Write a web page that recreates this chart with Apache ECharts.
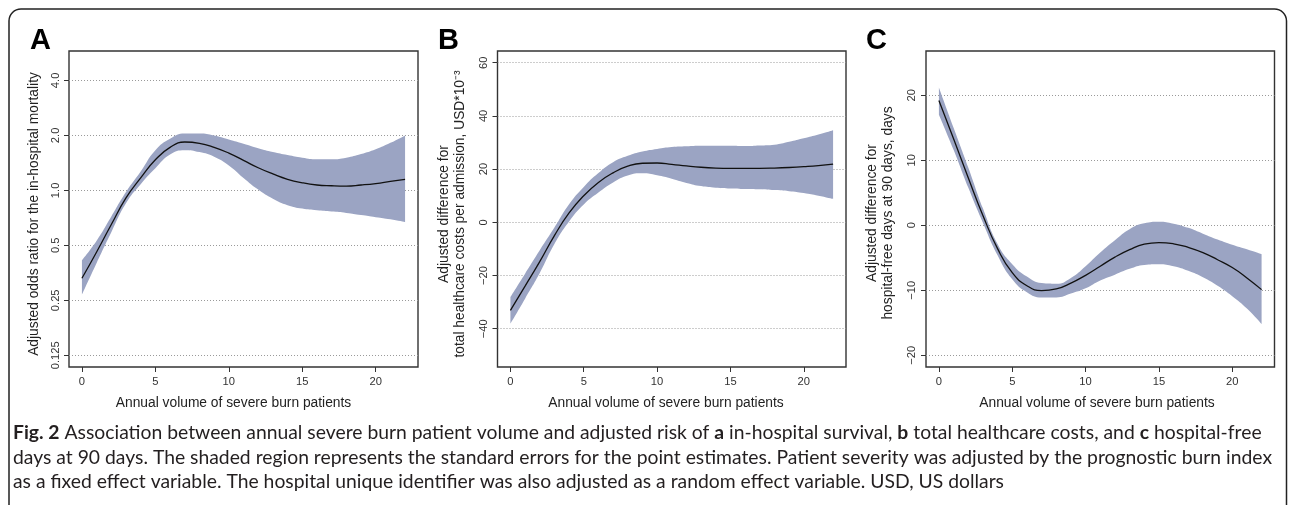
<!DOCTYPE html>
<html><head><meta charset="utf-8">
<script src="https://cdn.jsdelivr.net/npm/echarts@6/dist/echarts.min.js"></script>
<style>html,body{margin:0;padding:0;background:#fff}#c{width:1290px;height:505px}</style>
</head><body><div id="c"></div>
<script>
// ---- data ----
const xVals = [0,1,2,3,4,5,6,7,8,9,10,11,12,13,14,15,16,17,18,19,20,21,22];
const xTicks = [0,5,10,15,20];

// Panel A: adjusted odds ratio (log2 axis)
const orEst   = [0.33,0.46,0.65,0.91,1.17,1.47,1.72,1.84,1.81,1.72,1.60,1.46,1.33,1.23,1.15,1.10,1.07,1.06,1.056,1.07,1.09,1.12,1.15];
const orUpper = [0.414,0.53,0.72,0.98,1.27,1.66,1.92,2.05,2.05,2.0,1.90,1.80,1.70,1.62,1.56,1.51,1.48,1.48,1.51,1.58,1.68,1.82,2.0];
const orLower = [0.268,0.40,0.59,0.85,1.08,1.32,1.57,1.66,1.62,1.53,1.37,1.17,1.01,0.90,0.83,0.795,0.778,0.765,0.752,0.732,0.713,0.694,0.67];
const orTicks = [0.125,0.25,0.5,1,2,4];
const orTickLabels = ['0.125','0.25','0.5','1.0','2.0','4.0'];

// Panel B: total healthcare costs, USD*10^-3
const costEst   = [-33.1,-24.0,-14.8,-5.0,3.5,10.0,15.0,18.6,21.1,22.2,22.3,21.8,21.2,20.7,20.4,20.3,20.3,20.3,20.4,20.6,20.9,21.3,21.9];
const costUpper = [-28.1,-19.3,-10.5,-2.0,6.8,13.3,18.5,22.6,25.0,26.6,27.6,28.3,28.6,28.8,28.8,28.8,28.7,28.9,29.2,30.3,31.6,33.0,34.6];
const costLower = [-38.1,-28.7,-19.1,-8.2,0.3,6.7,11.2,15.0,17.6,18.4,17.7,16.4,14.8,13.6,13.0,12.7,12.5,12.4,12.1,11.7,11.0,10.0,8.8];
const costTicks = [-40,-20,0,20,40,60];

// Panel C: hospital-free days at 90 days
const daysEst   = [19.2,13.3,7.3,1.5,-3.6,-7.3,-9.3,-10.05,-9.8,-8.9,-7.7,-6.3,-4.9,-3.75,-2.9,-2.66,-2.85,-3.4,-4.2,-5.3,-6.5,-8.1,-9.9];
const daysUpper = [21.2,15.0,8.9,2.6,-2.9,-6.0,-7.9,-8.9,-9.0,-8.1,-6.3,-4.2,-2.3,-0.6,0.3,0.55,0.25,-0.4,-1.3,-2.2,-3.0,-3.7,-4.45];
const daysLower = [17.0,11.6,5.8,0.4,-4.6,-8.3,-10.3,-11.1,-11.1,-10.5,-9.7,-8.5,-7.6,-6.7,-6.1,-6.0,-6.3,-7.0,-8.0,-9.3,-10.9,-12.8,-15.2];
const dayTicks = [-20,-10,0,10,20];

// ---- texts ----
const xTitle = 'Annual volume of severe burn patients';
const yTitleA = 'Adjusted odds ratio for the in-hospital mortality';
const yTitleB = 'Adjusted difference for\ntotal healthcare costs per admission, USD*10\u207B\u00B3';
const yTitleC = 'Adjusted difference for\nhospital-free days at 90 days, days';
const capLines = [
  'Fig. 2 Association between annual severe burn patient volume and adjusted risk of a in-hospital survival, b total healthcare costs, and c hospital-free',
  'days at 90 days. The shaded region represents the standard errors for the point estimates. Patient severity was adjusted by the prognostic burn index',
  'as a fixed effect variable. The hospital unique identifier was also adjusted as a random effect variable. USD, US dollars'
];
const capRich = '{b|Fig. 2} Association between annual severe burn patient volume and adjusted risk of {b|a} in-hospital survival, {b|b} total healthcare costs, and {b|c} hospital-free\n' + capLines[1] + '\n' + capLines[2];

// ---- styles ----
const FONT = '"Liberation Sans", Arial, Helvetica, sans-serif';
const CAPFONT = 'Lato, "Noto Sans", sans-serif';
const BAND = '#9ba4c3';
const INK = '#222';
const SMOOTH = 0.5;

const log2 = v => Math.log2(v);
const minusFmt = v => (v < 0 ? '\u2212' + Math.abs(v) : String(v));

const grids = [
  {left: 69, top: 51, width: 349, height: 316},
  {left: 497.5, top: 51, width: 348.5, height: 316},
  {left: 926, top: 51, width: 348.5, height: 316}
].map(g => Object.assign({show: true, borderColor: '#333', borderWidth: 1.4, backgroundColor: 'transparent', containLabel: false}, g));

function xAxisFor(i) {
  return {type: 'value', gridIndex: i, min: -0.88, max: 22.88, position: 'bottom',
    axisLine: {show: false, onZero: false}, splitLine: {show: false},
    axisTick: {show: true, length: 5, inside: false, customValues: xTicks, lineStyle: {color: '#333', width: 1}},
    axisLabel: {show: true, customValues: xTicks, margin: 9, fontSize: 11.2, color: '#333', fontFamily: FONT}};
}
function yAxisFor(i, min, max, ticks, fmt, margin) {
  return {type: 'value', gridIndex: i, min: min, max: max, position: 'left',
    axisLine: {show: false, onZero: false},
    axisTick: {show: true, length: 5, inside: false, customValues: ticks, lineStyle: {color: '#333', width: 1}},
    axisLabel: {show: true, customValues: ticks, rotate: 90, margin: margin, fontSize: 11.2, color: '#333', fontFamily: FONT, formatter: fmt},
    splitLine: {show: true, lineStyle: {color: '#9a9a9a', width: 1, type: [1, 2]}}};
}

const orTicksLog = orTicks.map(log2);
const orFmt = v => { const k = orTicksLog.findIndex(t => Math.abs(t - v) < 1e-6); return k >= 0 ? orTickLabels[k] : ''; };

function bandSeries(i, lo, hi, est) {
  const common = {type: 'line', xAxisIndex: i, yAxisIndex: i, smooth: SMOOTH, symbol: 'none', showSymbol: false, silent: true, animation: false};
  return [
    Object.assign({}, common, {data: xVals.map((x, k) => [lo[k], x]), encode: {x: 1, y: 0},
      stack: 'band' + i, stackStrategy: 'all', lineStyle: {opacity: 0, width: 0}, z: 2}),
    Object.assign({}, common, {data: xVals.map((x, k) => [hi[k] - lo[k], x]), encode: {x: 1, y: 0},
      stack: 'band' + i, stackStrategy: 'all', lineStyle: {opacity: 0, width: 0},
      areaStyle: {color: BAND, opacity: 1}, z: 2}),
    Object.assign({}, common, {data: xVals.map((x, k) => [x, est[k]]),
      lineStyle: {color: '#111', width: 1.3}, z: 3})
  ];
}

// caption font size fitted to the first line width
const mctx = document.createElement('canvas').getContext('2d');
mctx.font = '100px ' + CAPFONT;
const capSize = 100 * 1249 / mctx.measureText(capLines[0]).width;

function titleText(x, y, text, rot, lh) {
  return {type: 'text', x: x, y: y, rotation: rot, silent: true,
    style: {text: text, fill: INK, font: '13.8px ' + FONT, align: 'center', verticalAlign: 'middle', lineHeight: lh || 16}};
}
function letter(x, t) {
  return {type: 'text', x: x, y: 41, silent: true,
    style: {text: t, fill: '#000', font: 'bold 29px ' + FONT, align: 'left', verticalAlign: 'middle'}};
}

const option = {
  animation: false,
  textStyle: {fontFamily: FONT},
  grid: grids,
  xAxis: [xAxisFor(0), xAxisFor(1), xAxisFor(2)],
  yAxis: [
    yAxisFor(0, -3.213, 2.535, orTicksLog, orFmt, 8),
    yAxisFor(1, -54.4, 64.4, costTicks, minusFmt, 8),
    yAxisFor(2, -21.8, 26.8, dayTicks, minusFmt, 9)
  ],
  series: [].concat(
    bandSeries(0, orLower.map(log2), orUpper.map(log2), orEst.map(log2)),
    bandSeries(1, costLower, costUpper, costEst),
    bandSeries(2, daysLower, daysUpper, daysEst)
  ),
  graphic: [
    {type: 'rect', silent: true, shape: {x: 9, y: 9, width: 1277.5, height: 560, r: 12},
      style: {fill: 'none', stroke: '#222', lineWidth: 1.5}},
    letter(30, 'A'), letter(438, 'B'), letter(866, 'C'),
    titleText(34, 214, yTitleA, Math.PI / 2),
    titleText(452, 214, yTitleB, Math.PI / 2, 15.5),
    titleText(880, 213, yTitleC, Math.PI / 2, 15.5),
    titleText(233.5, 403, xTitle, 0),
    titleText(666, 403, xTitle, 0),
    titleText(1097, 403, xTitle, 0),
    {type: 'text', x: 13, y: 433 - 12.25, silent: true,
      style: {text: capRich, fill: '#231f20', fontFamily: CAPFONT, fontSize: capSize, lineHeight: 24.5,
        align: 'left', verticalAlign: 'top',
        rich: {b: {fontFamily: CAPFONT, fontSize: capSize, fontWeight: 'bold', lineHeight: 24.5, fill: '#231f20'}}}}
  ]
};

const chart = echarts.init(document.getElementById('c'), null, {renderer: 'canvas'});
chart.setOption(option);
</script>
</body></html>
